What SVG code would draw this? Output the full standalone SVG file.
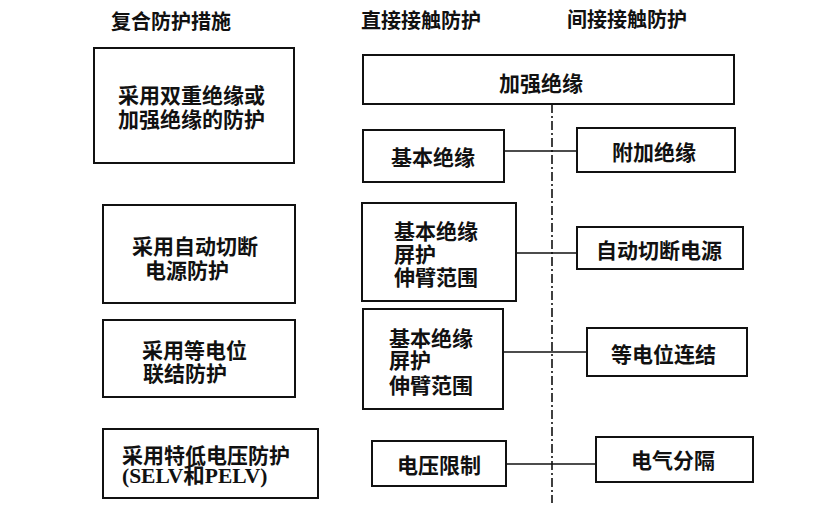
<svg xmlns="http://www.w3.org/2000/svg" width="824" height="515" viewBox="0 0 824 515">
<style>
.box{fill:#fff;stroke:#111;stroke-width:2}
.t{font-family:"Noto Sans CJK SC","Noto Sans CJK JP",sans-serif;font-size:21px;font-weight:600;fill:#111;dominant-baseline:central}
.h{font-family:"Noto Sans CJK SC","Noto Sans CJK JP",sans-serif;font-size:20px;font-weight:700;fill:#111;dominant-baseline:central}
.lat{font-family:"Liberation Serif","Noto Sans CJK SC",serif;font-weight:700;font-size:21.5px}
.c{fill:none;stroke:#111;stroke-width:1.6}
.dd{fill:none;stroke:#111;stroke-width:1.6;stroke-dasharray:9 3 2 3}
</style>
<rect width="824" height="515" fill="#fff"/>
<g id="headers">
<text class="h" x="111" y="20">复合防护措施</text>
<text class="h" x="361" y="19">直接接触防护</text>
<text class="h" x="567" y="18">间接接触防护</text>
</g>
<g id="connectors">
<line class="dd" x1="552" y1="104" x2="552" y2="503"/>
<line class="c" x1="504" y1="151" x2="577" y2="151"/>
<line class="c" x1="516" y1="253" x2="577" y2="253"/>
<line class="c" x1="503" y1="352" x2="587" y2="352"/>
<line class="c" x1="506" y1="464" x2="596" y2="464"/>
</g>
<g id="n_double">
<rect class="box" x="94" y="48" width="200" height="115"/>
<text class="t"><tspan x="118" y="94">采用双重绝缘或</tspan><tspan x="118" y="117.5">加强绝缘的防护</tspan></text>
</g>
<g id="n_auto">
<rect class="box" x="103" y="205" width="192" height="98"/>
<text class="t"><tspan x="132" y="245">采用自动切断</tspan><tspan x="145" y="268.5">电源防护</tspan></text>
</g>
<g id="n_equi">
<rect class="box" x="103" y="320" width="192" height="77"/>
<text class="t"><tspan x="142" y="348.5">采用等电位</tspan><tspan x="143" y="372">联结防护</tspan></text>
</g>
<g id="n_elv">
<rect class="box" x="103" y="429" width="215" height="69"/>
<text class="t"><tspan x="122" y="453.5">采用特低电压防护</tspan><tspan class="lat" x="122" y="476">(SELV和PELV)</tspan></text>
</g>
<g id="n_reinf">
<rect class="box" x="363" y="55" width="371" height="49"/>
<text class="t" x="499" y="81.5">加强绝缘</text>
</g>
<g id="n_basic">
<rect class="box" x="363" y="130" width="141" height="52"/>
<text class="t" x="391" y="156">基本绝缘</text>
</g>
<g id="n_supp">
<rect class="box" x="577" y="128" width="158" height="44"/>
<text class="t" x="612" y="151">附加绝缘</text>
</g>
<g id="n_basic2">
<rect class="box" x="362" y="203" width="154" height="98"/>
<text class="t"><tspan x="394" y="229.5">基本绝缘</tspan><tspan x="394" y="252.5">屏护</tspan><tspan x="394" y="276">伸臂范围</tspan></text>
</g>
<g id="n_disc">
<rect class="box" x="577" y="227" width="166" height="42"/>
<text class="t" x="596" y="249">自动切断电源</text>
</g>
<g id="n_basic3">
<rect class="box" x="363" y="309" width="140" height="100"/>
<text class="t"><tspan x="389" y="336.5">基本绝缘</tspan><tspan x="389" y="359">屏护</tspan><tspan x="389" y="384">伸臂范围</tspan></text>
</g>
<g id="n_bond">
<rect class="box" x="587" y="328" width="160" height="48"/>
<text class="t" x="611" y="352.5">等电位连结</text>
</g>
<g id="n_vlim">
<rect class="box" x="372" y="441" width="134" height="45"/>
<text class="t" x="397" y="464">电压限制</text>
</g>
<g id="n_sep">
<rect class="box" x="596" y="437" width="157" height="45"/>
<text class="t" x="631" y="459">电气分隔</text>
</g>
</svg>
